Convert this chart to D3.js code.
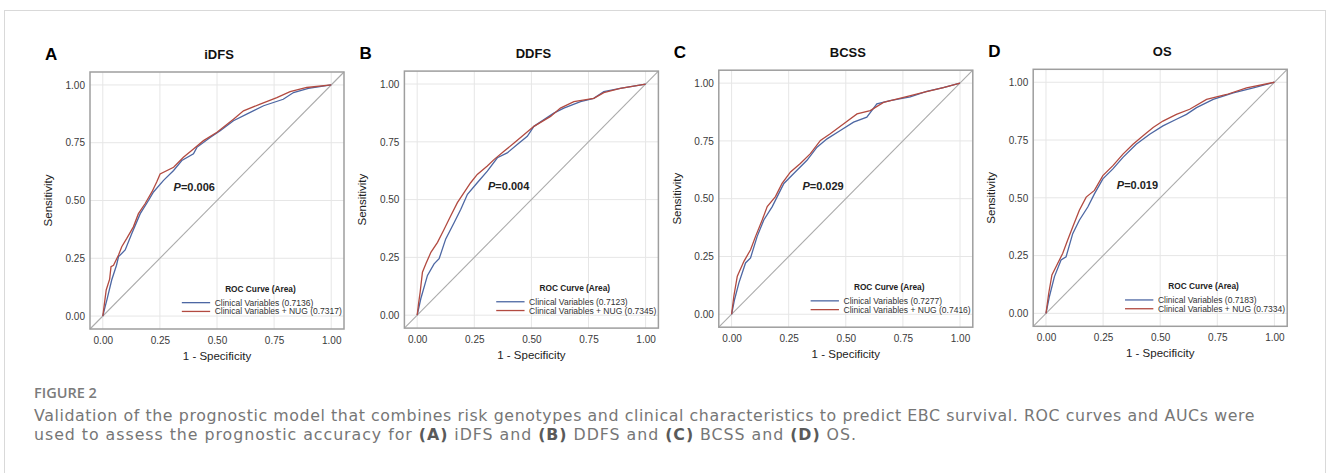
<!DOCTYPE html>
<html>
<head>
<meta charset="utf-8">
<script src="https://cdn.jsdelivr.net/npm/d3@7"></script>
<style>
  html, body { margin: 0; padding: 0; background: #fff; }
  svg { display: block; }
</style>
</head>
<body>
<svg id="fig" width="1328" height="473"></svg>
<script>
// ROC points [1 - specificity, sensitivity]
const idfsClin = [[0,0],[0.01,0.04],[0.018,0.07],[0.039,0.156],[0.06,0.22],[0.069,0.257],[0.098,0.286],[0.127,0.357],[0.164,0.443],[0.2,0.5],[0.222,0.537],[0.266,0.587],[0.31,0.63],[0.346,0.673],[0.397,0.702],[0.412,0.73],[0.47,0.773],[0.514,0.802],[0.572,0.845],[0.63,0.874],[0.704,0.91],[0.79,0.938],[0.835,0.967],[0.9,0.985],[1,1]];
const idfsNug = [[0,0],[0.008,0.06],[0.015,0.113],[0.03,0.16],[0.036,0.214],[0.047,0.22],[0.069,0.264],[0.083,0.3],[0.105,0.336],[0.134,0.386],[0.156,0.443],[0.185,0.486],[0.215,0.537],[0.236,0.58],[0.251,0.615],[0.31,0.644],[0.353,0.687],[0.397,0.723],[0.441,0.759],[0.5,0.795],[0.572,0.852],[0.616,0.888],[0.689,0.917],[0.762,0.945],[0.82,0.971],[0.893,0.989],[1,1]];

const ddfsClin = [[0,0],[0.016,0.072],[0.045,0.172],[0.074,0.222],[0.096,0.244],[0.125,0.33],[0.162,0.401],[0.191,0.458],[0.22,0.523],[0.263,0.573],[0.307,0.623],[0.351,0.681],[0.394,0.702],[0.438,0.738],[0.482,0.774],[0.511,0.817],[0.598,0.874],[0.642,0.896],[0.715,0.924],[0.773,0.938],[0.817,0.967],[0.889,0.981],[1,1]];
const ddfsNug = [[0,0],[0.006,0.05],[0.013,0.1],[0.023,0.186],[0.038,0.222],[0.06,0.272],[0.089,0.315],[0.118,0.372],[0.147,0.43],[0.176,0.487],[0.205,0.53],[0.234,0.573],[0.263,0.609],[0.307,0.645],[0.336,0.673],[0.38,0.709],[0.424,0.745],[0.467,0.781],[0.511,0.817],[0.584,0.86],[0.627,0.896],[0.686,0.924],[0.773,0.938],[0.817,0.963],[0.889,0.981],[1,1]];

const bcssClin = [[0,0],[0.013,0.064],[0.032,0.136],[0.061,0.222],[0.083,0.244],[0.112,0.337],[0.141,0.408],[0.178,0.466],[0.207,0.523],[0.229,0.566],[0.272,0.609],[0.33,0.666],[0.374,0.723],[0.418,0.759],[0.476,0.795],[0.534,0.831],[0.592,0.853],[0.636,0.91],[0.694,0.924],[0.782,0.941],[0.854,0.964],[0.927,0.981],[1,1]];
const bcssNug = [[0,0],[0.01,0.079],[0.025,0.165],[0.054,0.229],[0.083,0.279],[0.105,0.337],[0.134,0.408],[0.156,0.466],[0.192,0.509],[0.221,0.566],[0.258,0.616],[0.301,0.652],[0.345,0.695],[0.389,0.752],[0.432,0.781],[0.491,0.824],[0.549,0.867],[0.607,0.881],[0.665,0.917],[0.753,0.938],[0.84,0.96],[0.927,0.981],[1,1]];

const osClin = [[0,0],[0.015,0.073],[0.037,0.159],[0.066,0.231],[0.088,0.245],[0.117,0.345],[0.146,0.403],[0.183,0.46],[0.212,0.517],[0.249,0.582],[0.293,0.625],[0.337,0.675],[0.395,0.732],[0.454,0.775],[0.512,0.811],[0.571,0.84],[0.615,0.861],[0.659,0.89],[0.732,0.926],[0.82,0.954],[0.908,0.976],[1,1]];
const osNug = [[0,0],[0.012,0.087],[0.026,0.166],[0.051,0.216],[0.073,0.259],[0.095,0.317],[0.117,0.374],[0.146,0.446],[0.176,0.503],[0.212,0.532],[0.249,0.596],[0.293,0.639],[0.337,0.689],[0.381,0.732],[0.425,0.768],[0.469,0.804],[0.512,0.832],[0.571,0.861],[0.629,0.883],[0.703,0.926],[0.791,0.947],[0.878,0.976],[1,1]];

const panelLetters = ["A", "B", "C", "D"];
const panelTitles = ["iDFS", "DDFS", "BCSS", "OS"];
const pValues = ["0.006", "0.004", "0.029", "0.019"];
const aucClin = ["0.7136", "0.7123", "0.7277", "0.7183"];
const aucNug = ["0.7317", "0.7345", "0.7416", "0.7334"];
const clinSeries = [idfsClin, ddfsClin, bcssClin, osClin];
const nugSeries = [idfsNug, ddfsNug, bcssNug, osNug];
const tickValues = [0, 0.25, 0.5, 0.75, 1];

// layout
const frameW = 254, frameH = 257;
const pad = 0.056;
const blue = "#4d67a3", red = "#b24a40";
const chartFont = "'Liberation Sans', Arial, sans-serif";

const svg = d3.select("#fig");

// card border
svg.append("rect")
    .attr("x", 4.5).attr("y", 10.5)
    .attr("width", 1321).attr("height", 480)
    .attr("fill", "none")
    .attr("stroke", "#d9d9d9");

panelLetters.forEach((letter, i) => {
    const left = 90 + i * 314.4;
    const top = 72 - i * 0.9;
    const g = svg.append("g").attr("transform", `translate(${left},${top})`);

    const x = d3.scaleLinear().domain([-pad, 1 + pad]).range([0, frameW]);
    const y = d3.scaleLinear().domain([-pad, 1 + pad]).range([frameH, 0]);

    // grid
    g.append("g").selectAll("line").data(tickValues).join("line")
        .attr("x1", d => x(d)).attr("x2", d => x(d))
        .attr("y1", 0).attr("y2", frameH)
        .attr("stroke", "#e6e6e6").attr("stroke-width", 1);
    g.append("g").selectAll("line").data(tickValues).join("line")
        .attr("y1", d => y(d)).attr("y2", d => y(d))
        .attr("x1", 0).attr("x2", frameW)
        .attr("stroke", "#e6e6e6").attr("stroke-width", 1);

    // reference diagonal
    g.append("line")
        .attr("x1", x(-pad)).attr("y1", y(-pad))
        .attr("x2", x(1 + pad)).attr("y2", y(1 + pad))
        .attr("stroke", "#ababab").attr("stroke-width", 1.1);

    const line = d3.line().x(d => x(d[0])).y(d => y(d[1]));
    g.append("path").datum(clinSeries[i])
        .attr("d", line).attr("fill", "none")
        .attr("stroke", blue).attr("stroke-width", 1.3);
    g.append("path").datum(nugSeries[i])
        .attr("d", line).attr("fill", "none")
        .attr("stroke", red).attr("stroke-width", 1.3);

    // frame
    g.append("rect")
        .attr("width", frameW).attr("height", frameH)
        .attr("fill", "none").attr("stroke", "#9e9e9e").attr("stroke-width", 1.5);

    // axes
    const fmt = d3.format(".2f");
    const xAxis = g.append("g").attr("transform", `translate(0,${frameH})`)
        .call(d3.axisBottom(x).tickValues(tickValues).tickFormat(fmt).tickSize(0).tickPadding(8));
    const yAxis = g.append("g")
        .call(d3.axisLeft(y).tickValues(tickValues).tickFormat(fmt).tickSize(0).tickPadding(5));
    [xAxis, yAxis].forEach(a => {
        a.select(".domain").remove();
        a.selectAll("text").attr("font-family", chartFont).attr("font-size", 10).attr("fill", "#3a3a3a");
    });

    g.append("text")
        .attr("x", frameW / 2).attr("y", frameH + 31)
        .attr("text-anchor", "middle")
        .attr("font-family", chartFont).attr("font-size", 11.5).attr("fill", "#222")
        .text("1 - Specificity");
    g.append("text")
        .attr("transform", `translate(-38,${frameH / 2}) rotate(-90)`)
        .attr("text-anchor", "middle")
        .attr("font-family", chartFont).attr("font-size", 11.5).attr("fill", "#222")
        .text("Sensitivity");

    // titles
    g.append("text")
        .attr("x", frameW / 2 + 2).attr("y", -13)
        .attr("text-anchor", "middle")
        .attr("font-family", chartFont).attr("font-size", 13).attr("font-weight", "bold").attr("fill", "#111")
        .text(panelTitles[i]);
    g.append("text")
        .attr("x", -45).attr("y", -12)
        .attr("font-family", chartFont).attr("font-size", 17).attr("font-weight", "bold").attr("fill", "#000")
        .text(letter);

    // p-value
    const pt = g.append("text")
        .attr("x", x(0.31)).attr("y", y(0.557) + 4)
        .attr("font-family", chartFont).attr("font-size", 11).attr("font-weight", "bold").attr("fill", "#222");
    pt.append("tspan").attr("font-style", "italic").text("P");
    pt.append("tspan").text("=" + pValues[i]);

    // legend
    g.append("text")
        .attr("x", x(0.69)).attr("y", y(0.118) + 3)
        .attr("text-anchor", "middle")
        .attr("font-family", chartFont).attr("font-size", 8.3).attr("font-weight", "bold").attr("fill", "#222")
        .text("ROC Curve (Area)");
    const legendRows = [
        { color: blue, label: `Clinical Variables (${aucClin[i]})`, yv: 0.058 },
        { color: red, label: `Clinical Variables + NUG (${aucNug[i]})`, yv: 0.02 }
    ];
    legendRows.forEach(r => {
        g.append("line")
            .attr("x1", x(0.346)).attr("x2", x(0.47))
            .attr("y1", y(r.yv)).attr("y2", y(r.yv))
            .attr("stroke", r.color).attr("stroke-width", 1.3);
        g.append("text")
            .attr("x", x(0.49)).attr("y", y(r.yv) + 3)
            .attr("font-family", chartFont).attr("font-size", 8.5).attr("fill", "#333")
            .text(r.label);
    });
});

// caption
svg.append("text")
    .attr("x", 34).attr("y", 398)
    .attr("font-family", "'Open Sans', sans-serif").attr("font-size", 14.5).attr("font-weight", 600).attr("fill", "#7b7b7b")
    .text("FIGURE 2");

const capFont = "'DejaVu Sans', sans-serif";
const capSize = 15.8;
function fitSpacing(textSel, target) {
    const n = textSel.text().length;
    const len = textSel.node().getComputedTextLength();
    textSel.attr("letter-spacing", (target - len) / n);
}

const cap1 = svg.append("text")
    .attr("x", 34).attr("y", 421)
    .attr("font-family", capFont).attr("font-size", capSize).attr("fill", "#767676")
    .text("Validation of the prognostic model that combines risk genotypes and clinical characteristics to predict EBC survival. ROC curves and AUCs were");
fitSpacing(cap1, 1221);

const cap2 = svg.append("text")
    .attr("x", 34).attr("y", 440)
    .attr("font-family", capFont).attr("font-size", capSize).attr("fill", "#767676");
const cap2Parts = [
    ["used to assess the prognostic accuracy for ", false], ["(A)", true], [" iDFS and ", false],
    ["(B)", true], [" DDFS and ", false], ["(C)", true], [" BCSS and ", false], ["(D)", true], [" OS.", false]
];
cap2Parts.forEach(([t, b]) => {
    cap2.append("tspan").attr("font-weight", b ? 700 : 400).attr("fill", b ? "#5a5a5a" : null).text(t);
});
fitSpacing(cap2, 823);
</script>
</body>
</html>
